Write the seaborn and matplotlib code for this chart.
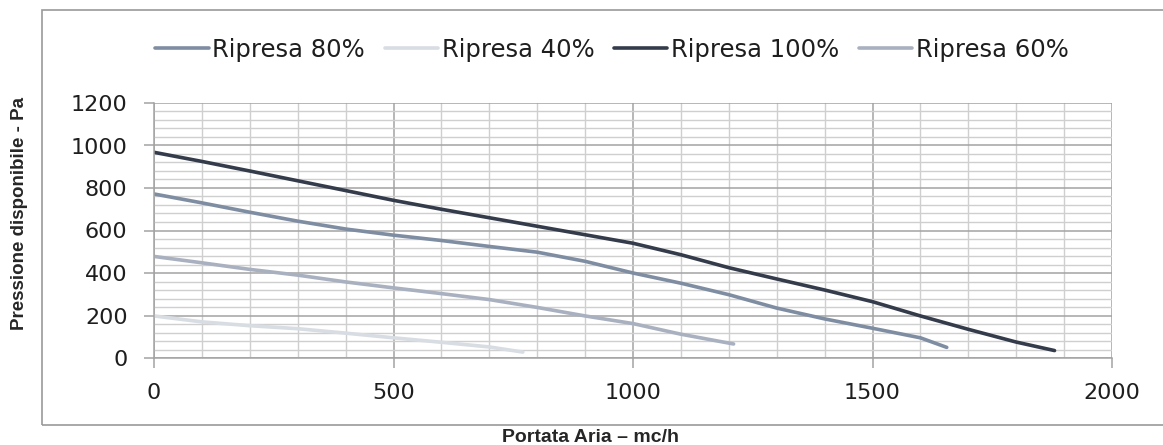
import numpy as np
import pandas as pd
import matplotlib
matplotlib.use("Agg")
import matplotlib.pyplot as plt
from matplotlib.patches import Rectangle
from matplotlib.ticker import MultipleLocator
import seaborn as sns

# Curve data (portata mc/h -> pressione Pa)
x_80 = [0, 100, 200, 300, 400, 500, 600, 700, 800, 900, 1000, 1100, 1200, 1300, 1400, 1500, 1600, 1655]
y_80 = [772, 730, 686, 644, 607, 578, 553, 525, 498, 455, 400, 352, 298, 235, 184, 140, 95, 50]

x_40 = [0, 100, 200, 300, 400, 500, 600, 700, 770]
y_40 = [198, 170, 152, 138, 117, 95, 74, 52, 28]

x_100 = [0, 100, 200, 300, 400, 500, 600, 700, 800, 900, 1000, 1100, 1200, 1300, 1400, 1500, 1600, 1700, 1800, 1880]
y_100 = [968, 925, 880, 834, 788, 742, 700, 660, 620, 580, 540, 486, 425, 372, 320, 265, 198, 135, 75, 35]

x_60 = [0, 100, 200, 300, 400, 500, 600, 700, 800, 900, 1000, 1100, 1210]
y_60 = [478, 448, 417, 390, 358, 330, 303, 275, 238, 198, 162, 112, 66]

series_names = ["Ripresa 80%", "Ripresa 40%", "Ripresa 100%", "Ripresa 60%"]
series_colors = ["#7f8da2", "#d8dce3", "#343b4a", "#a9b0bf"]

frames = []
for name, xs, ys in zip(series_names, [x_80, x_40, x_100, x_60], [y_80, y_40, y_100, y_60]):
    frames.append(pd.DataFrame({"portata": xs, "pressione": ys, "serie": name}))
df = pd.concat(frames, ignore_index=True)

sns.set_style("white")
plt.rcParams['font.family'] = ['DejaVu Sans']

fig = plt.figure(figsize=(11.63, 4.45), dpi=100)
ax = fig.add_axes([154 / 1163, 87 / 445, 958 / 1163, 255 / 445])

sns.lineplot(data=df, x="portata", y="pressione", hue="serie", hue_order=series_names,
             palette=series_colors, linewidth=2.6, sort=False, estimator=None, ax=ax)

ax.set_xlim(0, 2000)
ax.set_ylim(0, 1200)
ax.xaxis.set_major_locator(MultipleLocator(500))
ax.xaxis.set_minor_locator(MultipleLocator(100))
ax.yaxis.set_major_locator(MultipleLocator(200))
ax.yaxis.set_minor_locator(MultipleLocator(40))
ax.grid(which="major", color="#a3a3a3", linewidth=1.1)
ax.grid(which="minor", color="#cfcfcf", linewidth=1.0)
ax.set_axisbelow(True)
for s in ["top", "right"]:
    ax.spines[s].set_visible(False)
for s in ["left", "bottom"]:
    ax.spines[s].set_color("#a3a3a3")
    ax.spines[s].set_linewidth(1.1)

ax.tick_params(which="major", length=7, color="#a3a3a3", width=1.1,
               labelsize=16, labelcolor="#1e1e1e", left=True, bottom=True)
ax.tick_params(axis="y", which="major", pad=12)
ax.tick_params(axis="x", which="major", pad=11)
ax.tick_params(which="minor", length=0)

ax.set_xlabel("")
ax.set_ylabel("")
fig.text(590 / 1163, 1 - 437 / 445, "Portata Aria – mc/h", ha="center", va="center",
         fontsize=14, fontweight="bold", family="Liberation Sans")
fig.text(20 / 1163, 1 - 213 / 445, "Pressione disponibile - Pa", ha="center", va="center",
         rotation=90, fontsize=13.5, fontweight="bold", family="Liberation Sans")

handles, labels = ax.get_legend_handles_labels()
ax.get_legend().remove()
fig.legend(handles, labels, loc="center", bbox_to_anchor=(612 / 1163, 1 - 50 / 445),
           ncol=4, frameon=False, fontsize=17.5, handlelength=2.2, handletextpad=0.15,
           columnspacing=0.8, labelcolor="#1e1e1e")

fig.patches.append(Rectangle((42 / 1163, 20 / 445), 1.2, 415 / 445, transform=fig.transFigure,
                             fill=False, edgecolor="#9a9a9a", linewidth=1.2, zorder=-1))

fig.savefig("out.png", dpi=100)
